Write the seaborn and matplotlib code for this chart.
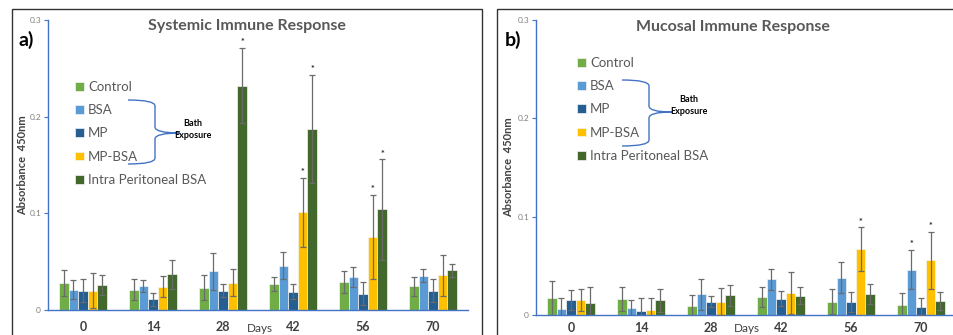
import matplotlib
matplotlib.use("Agg")
import matplotlib.pyplot as plt
import matplotlib.transforms as mtransforms
from matplotlib.path import Path
from matplotlib.patches import PathPatch, Rectangle
from matplotlib.container import BarContainer
import seaborn as sns
import pandas as pd

# ---------------- data ----------------
days = ["0", "14", "28", "42", "56", "70"]
groups = ["Control", "BSA", "MP", "MP-BSA", "Intra Peritoneal BSA"]
colors = ["#70AD47", "#5B9BD5", "#255E91", "#FFC000", "#43682B"]

sys_control = [0.028, 0.021, 0.023, 0.027, 0.029, 0.0245]
sys_bsa = [0.021, 0.025, 0.040, 0.046, 0.034, 0.0355]
sys_mp = [0.020, 0.011, 0.020, 0.019, 0.017, 0.020]
sys_mpbsa = [0.020, 0.024, 0.028, 0.101, 0.0755, 0.036]
sys_ip = [0.026, 0.037, 0.232, 0.187, 0.104, 0.041]

sys_control_err = [0.013, 0.011, 0.013, 0.007, 0.011, 0.010]
sys_bsa_err = [0.010, 0.0065, 0.019, 0.014, 0.010, 0.007]
sys_mp_err = [0.012, 0.007, 0.007, 0.0075, 0.012, 0.012]
sys_mpbsa_err = [0.018, 0.011, 0.014, 0.036, 0.0435, 0.021]
sys_ip_err = [0.010, 0.015, 0.039, 0.056, 0.052, 0.0065]

muc_control = [0.017, 0.016, 0.0096, 0.018, 0.0137, 0.0099]
muc_bsa = [0.006, 0.007, 0.021, 0.0365, 0.038, 0.046]
muc_mp = [0.015, 0.0045, 0.0137, 0.0164, 0.013, 0.0085]
muc_mpbsa = [0.015, 0.005, 0.0137, 0.0225, 0.067, 0.0556]
muc_ip = [0.0126, 0.015, 0.020, 0.0198, 0.0215, 0.0143]

muc_control_err = [0.018, 0.012, 0.011, 0.010, 0.013, 0.012]
muc_bsa_err = [0.011, 0.008, 0.016, 0.0106, 0.0157, 0.020]
muc_mp_err = [0.010, 0.013, 0.006, 0.0075, 0.010, 0.009]
muc_mpbsa_err = [0.011, 0.0125, 0.0137, 0.0212, 0.022, 0.0287]
muc_ip_err = [0.016, 0.0118, 0.011, 0.0089, 0.010, 0.009]

# significance markers: (day index, group index)
sys_stars = [(2, 4), (3, 3), (3, 4), (4, 3), (4, 4)]
muc_stars = [(4, 3), (5, 1), (5, 3)]

yticks = [0, 0.1, 0.2, 0.3]
ytick_labels = ["0", "0.1", "0.2", "0.3"]

# ---------------- figure ----------------
sns.set_theme(style="white")
plt.rcParams["font.family"] = ["Lato", "DejaVu Sans"]

W, H = 954, 335
fig = plt.figure(figsize=(W / 100, H / 100), dpi=100)
px = mtransforms.Affine2D().scale(1 / W, -1 / H).translate(0, 1) + fig.transFigure

AXIS_BLUE = "#4472C4"
TEXT_GRAY = "#595959"


def make_df(vals):
    rows = []
    for g, series in zip(groups, vals):
        for d, v in zip(days, series):
            rows.append({"Day": d, "Group": g, "Absorbance": v})
    return pd.DataFrame(rows)


def draw_brace(x0, x1, x2, yt, ym, yb, r=6):
    verts = [(x0, yt), (x1, yt), (x1, yt + r), (x1, ym - r), (x1, ym), (x2, ym),
             (x1, ym), (x1, ym + r), (x1, yb - r), (x1, yb), (x0, yb)]
    codes = [Path.MOVETO, Path.CURVE3, Path.CURVE3, Path.LINETO, Path.CURVE3, Path.CURVE3,
             Path.CURVE3, Path.CURVE3, Path.LINETO, Path.CURVE3, Path.CURVE3]
    fig.patches.append(PathPatch(Path(verts, codes), transform=px, fill=False,
                                 edgecolor=AXIS_BLUE, lw=1.0))


def panel(ax_rect, vals, errs, stars, title, title_xy, label, label_xy,
          ylab_xy, days_xy, legend_xy, brace, bath_xy, xpad):
    ax = fig.add_axes(ax_rect)
    df = make_df(vals)
    sns.barplot(data=df, x="Day", y="Absorbance", hue="Group", hue_order=groups,
                palette=colors, saturation=1, width=0.69, errorbar=None, ax=ax,
                edgecolor="#f4f4f4", linewidth=0.5, gap=0)
    handles, labels = ax.get_legend_handles_labels()
    if ax.get_legend() is not None:
        ax.get_legend().remove()

    bars = [c for c in ax.containers if isinstance(c, BarContainer)]
    for gi, cont in enumerate(bars):
        xs = [b.get_x() + b.get_width() / 2 for b in cont]
        ax.errorbar(xs, vals[gi], yerr=errs[gi], fmt="none", ecolor="#6b6b6b",
                    elinewidth=0.9, capsize=2.0, capthick=0.9, zorder=5)
    for di, gi in stars:
        b = bars[gi][di]
        ax.annotate("*", (b.get_x() + b.get_width() / 2, vals[gi][di] + errs[gi][di]),
                    xytext=(0, 0.5), textcoords="offset points", ha="center", va="bottom",
                    fontsize=6.5, color="#222222", fontweight="bold")

    ax.set_ylim(0, 0.3)
    ax.set_xlim(-0.5, 5.5)
    ax.set_yticks(yticks)
    ax.set_yticklabels(ytick_labels)
    ax.set_xlabel("")
    ax.set_ylabel("")
    for s in ["top", "right"]:
        ax.spines[s].set_visible(False)
    for s in ["left", "bottom"]:
        ax.spines[s].set_color(AXIS_BLUE)
        ax.spines[s].set_linewidth(1.0)
    ax.tick_params(axis="y", left=True, length=3, width=0.8, color=AXIS_BLUE,
                   labelsize=6, labelcolor="#808080", pad=2)
    ax.tick_params(axis="x", length=0, labelsize=9, labelcolor="#404040", pad=xpad)
    for t in ax.get_xticklabels():
        t.set_fontweight("bold")
    ax.patch.set_alpha(0)

    fig.text(*title_xy, title, transform=px, ha="center", va="center",
             fontsize=11.5, fontweight="bold", color=TEXT_GRAY)
    fig.text(*label_xy, label, transform=px, ha="left", va="center",
             fontsize=14, fontweight="bold", color="black")
    fig.text(*ylab_xy, "Absorbance  450nm", transform=px, ha="center", va="center",
             rotation=90, fontsize=8, fontweight="bold", color="#404040")
    fig.text(*days_xy, "Days", transform=px, ha="center", va="center",
             fontsize=8.5, color="#404040")

    lx, ly = legend_xy
    fig.legend(handles, labels, loc="upper left",
               bbox_to_anchor=(lx / W, 1 - ly / H), frameon=False,
               handlelength=0.65, handleheight=0.65, handletextpad=0.35,
               labelspacing=0.85, fontsize=9.5, labelcolor=TEXT_GRAY,
               borderpad=0, borderaxespad=0)

    draw_brace(*brace)
    bx, by = bath_xy
    fig.text(bx, by, "Bath", transform=px, ha="center", va="center",
             fontsize=6.5, fontweight="bold", color="black")
    fig.text(bx, by + 12, "Exposure", transform=px, ha="center", va="center",
             fontsize=6.5, fontweight="bold", color="black")
    return ax


# panel frames
fig.patches.append(Rectangle((12, 9), 470, 340, transform=px, fill=False,
                             edgecolor="#333333", lw=1.0, clip_on=False))
fig.patches.append(Rectangle((497, 9), 470, 340, transform=px, fill=False,
                             edgecolor="#333333", lw=1.0, clip_on=False))

panel([48 / W, 25 / H, 420 / W, 290 / H],
      [sys_control, sys_bsa, sys_mp, sys_mpbsa, sys_ip],
      [sys_control_err, sys_bsa_err, sys_mp_err, sys_mpbsa_err, sys_ip_err],
      sys_stars, "Systemic Immune Response", (247, 26), "a)", (19, 40),
      (23, 165), (260, 329), (75, 81), (128, 155, 180, 100, 133, 164), (193, 123), 8)

panel([536 / W, 20 / H, 420 / W, 295 / H],
      [muc_control, muc_bsa, muc_mp, muc_mpbsa, muc_ip],
      [muc_control_err, muc_bsa_err, muc_mp_err, muc_mpbsa_err, muc_ip_err],
      muc_stars, "Mucosal Immune Response", (733, 27), "b)", (505, 40),
      (509, 167), (747, 329), (577, 57), (622, 649, 672, 80, 112, 146), (689, 100), 5)

fig.savefig("out.png", dpi=100)
